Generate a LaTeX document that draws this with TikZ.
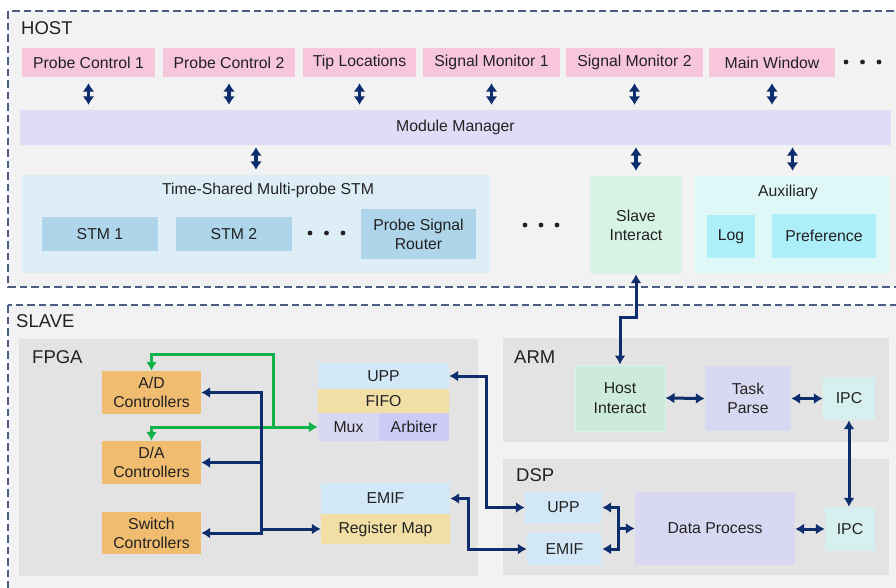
\documentclass[tikz,border=0pt]{standalone}
\usepackage{fontspec}
\setmainfont{Liberation Sans}
\usetikzlibrary{arrows.meta}

\definecolor{navy}{HTML}{0D2D6C}
\definecolor{frame}{HTML}{4A5C7F}
\definecolor{zone}{HTML}{F2F2F2}
\definecolor{chip}{HTML}{E3E3E3}
\definecolor{pinkbox}{HTML}{F7C6DD}
\definecolor{lav}{HTML}{DEDCF7}
\definecolor{lavdk}{HTML}{D9D8F2}
\definecolor{arb}{HTML}{CBCBF6}
\definecolor{skybg}{HTML}{DEEEF7}
\definecolor{stm}{HTML}{AED5EA}
\definecolor{mint}{HTML}{D7F3E6}
\definecolor{mintdk}{HTML}{CDEBDC}
\definecolor{aqbg}{HTML}{DFF7F7}
\definecolor{aq}{HTML}{ADEFF8}
\definecolor{orangebox}{HTML}{F0BC70}
\definecolor{ifc}{HTML}{D3E8F6}
\definecolor{sand}{HTML}{F2DFA6}
\definecolor{ipc}{HTML}{D6F0EF}
\definecolor{greenbus}{HTML}{12B34A}
\definecolor{ink}{HTML}{222222}

% block from corner (x1,y1) to corner (x2,y2)
\newcommand\blk[7]{\node[blk,#6,minimum width={(#4-#2)*1pt},minimum height={(#5-#3)*1pt}] (#1) at ({(#2+#4)/2},{(#3+#5)/2}) {#7};}
\newcommand\tridot[3]{\foreach \k in {0,1,2} \fill[ink] ({#1+\k*#3},#2) circle (2.4);}

\tikzset{
  blk/.style={inner sep=0pt, align=center, text=ink, font=\fontsize{15.8}{19.3}\selectfont},
  zonebox/.style={draw=frame, line width=1.4pt, dash pattern=on 7.5pt off 4pt, fill=zone},
  biglabel/.style={anchor=west, inner sep=0pt, text=ink, font=\fontsize{18.5}{20}\selectfont},
  midlabel/.style={inner sep=0pt, text=ink, font=\fontsize{15.8}{19}\selectfont},
  navyline/.style={draw=navy, line width=3pt},
  navyarr/.style={navyline, -{Latex[length=9pt,width=11pt]}},
  navyboth/.style={navyline, {Latex[length=9pt,width=11pt]}-{Latex[length=9pt,width=11pt]}},
  hostarr/.style={draw=navy, line width=3.8pt, {Latex[length=8.5pt,width=12pt]}-{Latex[length=8.5pt,width=12pt]}},
  greenline/.style={draw=greenbus, line width=3pt},
  greenarr/.style={greenline, -{Latex[length=9pt,width=11pt]}},
}

\begin{document}
\begin{tikzpicture}[x=1pt,y=-1pt]
\useasboundingbox (0,0) rectangle (896,587);
\clip (0,0) rectangle (896,587);

% ---------------- HOST ----------------
\draw[zonebox] (8,11) rectangle (905,287);
\node[biglabel] (hostlbl) at (21,28) {HOST};

\blk{pc1}{22}{48}{155}{77}{fill=pinkbox}{Probe Control 1}
\blk{pc2}{163}{48}{295}{77}{fill=pinkbox}{Probe Control 2}
\blk{tip}{303}{48}{416}{77}{fill=pinkbox}{Tip Locations}
\blk{sm1}{423}{48}{560}{77}{fill=pinkbox}{Signal Monitor 1}
\blk{sm2}{566}{48}{703}{77}{fill=pinkbox}{Signal Monitor 2}
\blk{mw}{709}{48}{835}{77}{fill=pinkbox}{Main Window}
\tridot{846}{62}{16.5}

\blk{mm}{20}{110}{891}{145}{fill=lav}{Module Manager}

\blk{ts}{22}{175}{490}{273}{fill=skybg}{}
\node[midlabel] (tstitle) at (268,190) {Time-Shared Multi-probe STM};
\blk{stm1}{42}{217}{158}{251}{fill=stm}{STM 1}
\blk{stm2}{176}{217}{292}{251}{fill=stm}{STM 2}
\tridot{310}{233}{16.5}
\blk{psr}{361}{209}{476}{259}{fill=stm}{Probe Signal\\Router}
\tridot{525}{225}{16}

\blk{si}{590}{176}{682}{274}{fill=mint}{Slave\\Interact}

\blk{aux}{695}{176}{890}{274}{fill=aqbg}{}
\node[midlabel] (auxtitle) at (788,192) {Auxiliary};
\blk{log}{707}{215}{755}{258}{fill=aq}{Log}
\blk{pref}{772}{214}{876}{258}{fill=aq}{Preference}

% links between the windows and the module manager
\foreach \n in {pc1,pc2,tip,sm1,sm2,mw}
  \draw[hostarr, shorten <=6pt, shorten >=5pt] (\n.south) -- (\n.south |- mm.north);
\foreach \n in {ts,si,aux}
  \draw[hostarr, shorten <=2pt, shorten >=5pt] (\n.north |- mm.south) -- (\n.north);

% ---------------- SLAVE ----------------
\draw[zonebox] (8,305) rectangle (905,600);
\node[biglabel] (slavelbl) at (16,321) {SLAVE};

% FPGA
\blk{fpga}{19}{339}{478}{576}{fill=chip}{}
\node[biglabel] (fpgalbl) at (32,357) {FPGA};
\blk{ad}{102}{371}{201}{414}{fill=orangebox}{A/D\\Controllers}
\blk{da}{102}{441}{201}{484}{fill=orangebox}{D/A\\Controllers}
\blk{sw}{102}{512}{201}{554}{fill=orangebox}{Switch\\Controllers}
\blk{upp1}{318}{363}{449}{389}{fill=ifc}{UPP}
\blk{fifo}{318}{389}{449}{413}{fill=sand}{FIFO}
\blk{mux}{318}{413}{379}{441}{fill=lavdk}{Mux}
\blk{arb}{379}{413}{449}{441}{fill=arb}{Arbiter}
\blk{emif1}{321}{483}{450}{514}{fill=ifc}{EMIF}
\blk{reg}{321}{514}{450}{544}{fill=sand}{Register Map}

% ARM
\blk{arm}{503}{338}{889}{442}{fill=chip}{}
\node[biglabel] (armlbl) at (514,357) {ARM};
\blk{hi}{575}{365}{665}{431}{fill=mintdk, draw=mint, line width=1pt}{Host\\Interact}
\blk{tp}{705}{366}{791}{431}{fill=lavdk}{Task\\Parse}
\blk{ipc1}{823}{377}{875}{420}{fill=ipc}{IPC}

% DSP
\blk{dsp}{503}{459}{889}{575}{fill=chip}{}
\node[biglabel] (dsplbl) at (516,475) {DSP};
\blk{upp2}{525}{492}{602}{523}{fill=ifc}{UPP}
\blk{emif2}{527}{533}{602}{565}{fill=ifc}{EMIF}
\blk{dp}{635}{492}{795}{565}{fill=lavdk}{Data Process}
\blk{ipc2}{825}{507}{875}{551}{fill=ipc}{IPC}

% green control paths
\coordinate (gsplit) at (273,427);
\draw[greenarr] (gsplit) |- (151.5,354) -- (ad.north);
\draw[greenline, {Latex[length=9pt,width=11pt]}-{Latex[length=9pt,width=11pt]}] (da.north) |- (mux.west);

% register bus
\coordinate (btop) at (261,392.5);
\coordinate (bbot) at (261,533);
\draw[navyline, line cap=rect] (btop) -- (bbot);
\draw[navyarr] (btop) -- (ad.east);
\draw[navyarr] (btop |- da.east) -- (da.east);
\draw[navyarr] (bbot) -- (sw.east);
\draw[navyarr] (261,529) -- (reg.west);

% FPGA <-> DSP interfaces
\draw[navyboth] (upp1.east) -- (486,376) |- (upp2.west);
\draw[navyboth] (emif1.east) -- (468,498.5) |- (emif2.west);

% host link
\coordinate (hbend) at (636,317);
\draw[navyboth] (si.south) -- (hbend) -| (hi.north);

% ARM internals
\draw[navyboth] (hi.east) -- (tp.west);
\draw[navyboth] (tp.east) -- (tp.east -| ipc1.west);
\draw[navyboth] (ipc1.south) -- (ipc1.south |- ipc2.north);

% DSP internals
\coordinate (dj) at (618,528.5);
\draw[navyline, line cap=rect] (618,507.5) -- (618,549);
\draw[navyarr] (618,507.5) -- (upp2.east);
\draw[navyarr] (618,549) -- (emif2.east);
\draw[navyarr] (dj) -- (dp.west);
\draw[navyboth] (dp.east |- ipc2.west) -- (ipc2.west);
\end{tikzpicture}
\end{document}
